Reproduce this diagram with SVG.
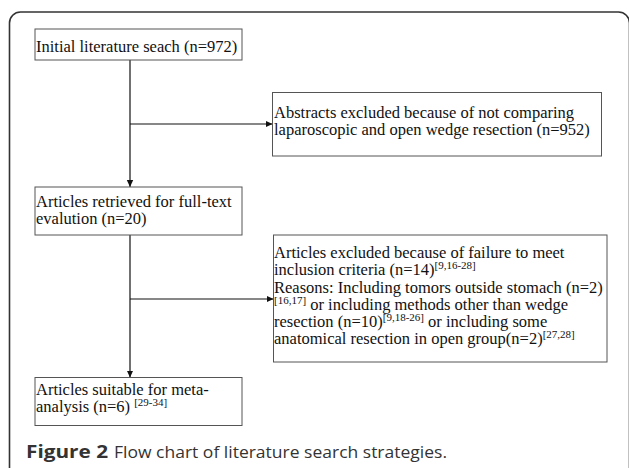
<svg xmlns="http://www.w3.org/2000/svg" width="629" height="468" viewBox="0 0 629 468">
<style>
  .frame { fill: none; stroke: #333; stroke-width: 1.6; }
  .box { fill: #fff; stroke: #555; stroke-width: 1; }
  .t { font-family: "Liberation Serif", "Times New Roman", serif; font-size: 16.5px; fill: #111; }
  .sup { font-size: 11px; }
  .conn { fill: none; stroke: #111; stroke-width: 1.2; }
  .cap { font-family: "Open Sans", "Noto Sans", sans-serif; font-size: 17px; fill: #333; }
</style>
<defs>
  <marker id="arr" markerWidth="8" markerHeight="8" refX="7" refY="4" orient="auto" markerUnits="userSpaceOnUse">
    <path d="M0,0.8 L7,4 L0,7.2 Z" fill="#111"/>
  </marker>
</defs>
<rect x="0" y="0" width="629" height="468" fill="#fff"/>
<rect class="frame" x="9.5" y="12" width="620" height="470" rx="11" ry="11"/>

<g id="connectors">
  <line class="conn" x1="130" y1="60" x2="130" y2="187" marker-end="url(#arr)"/>
  <line class="conn" x1="130" y1="124" x2="272.5" y2="124" marker-end="url(#arr)"/>
  <line class="conn" x1="130" y1="235" x2="130" y2="377.5" marker-end="url(#arr)"/>
  <line class="conn" x1="130" y1="299" x2="273.5" y2="299" marker-end="url(#arr)"/>
</g>

<g id="node-initial">
  <rect class="box" x="35" y="29" width="207" height="31"/>
  <text class="t" x="36" y="51.7">Initial literature seach (n=972)</text>
</g>

<g id="node-abstracts">
  <rect class="box" x="272.5" y="92.5" width="329" height="63.5"/>
  <text class="t" x="274" y="117.7">Abstracts excluded because of not comparing</text>
  <text class="t" x="274" y="135">laparoscopic and open wedge resection (n=952)</text>
</g>

<g id="node-retrieved">
  <rect class="box" x="35" y="187" width="207" height="48"/>
  <text class="t" x="36" y="206.7">Articles retrieved for full-text</text>
  <text class="t" x="36" y="224">evalution (n=20)</text>
</g>

<g id="node-excluded">
  <rect class="box" x="273.5" y="235" width="333.5" height="127"/>
  <text class="t" x="274" y="258">Articles excluded because of failure to meet</text>
  <text class="t" x="274" y="275">inclusion criteria (n=14)<tspan class="sup" dy="-6">[9,16-28]</tspan></text>
  <text class="t" x="274" y="292.5">Reasons: Including tomors outside stomach (n=2)</text>
  <text class="t" x="274" y="310"><tspan class="sup" dy="-6">[16,17]</tspan><tspan dy="6"> or including methods other than wedge</tspan></text>
  <text class="t" x="274" y="327">resection (n=10)<tspan class="sup" dy="-6">[9,18-26]</tspan><tspan dy="6"> or including some</tspan></text>
  <text class="t" x="274" y="344">anatomical resection in open group(n=2)<tspan class="sup" dy="-6">[27,28]</tspan></text>
</g>

<g id="node-suitable">
  <rect class="box" x="35" y="377.5" width="207" height="48"/>
  <text class="t" x="36" y="395">Articles suitable for meta-</text>
  <text class="t" x="36" y="411.7">analysis (n=6) <tspan class="sup" dy="-6">[29-34]</tspan></text>
</g>

<g id="caption">
  <text class="cap" x="26" y="458.3" font-weight="bold" fill="#222" textLength="82" lengthAdjust="spacingAndGlyphs">Figure 2</text>
  <text class="cap" x="114" y="458.3" textLength="333" lengthAdjust="spacingAndGlyphs">Flow chart of literature search strategies.</text>
</g>
</svg>
